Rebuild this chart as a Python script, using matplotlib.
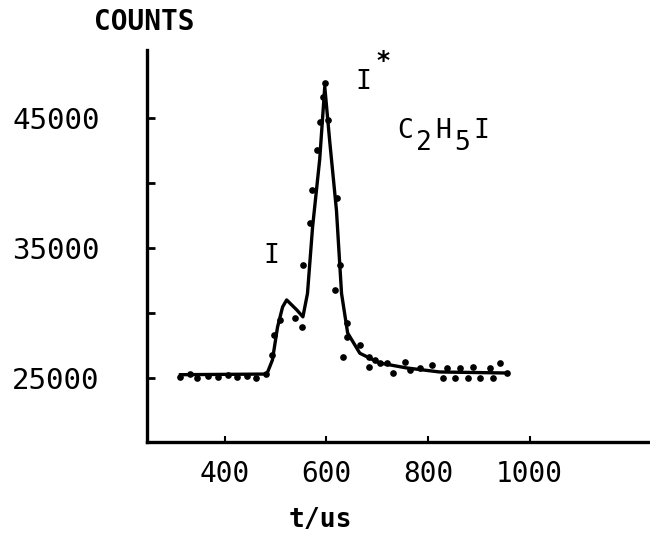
import matplotlib
matplotlib.use('Agg')
import matplotlib.pyplot as plt

# Fitted curve (time in us, counts)
curve_t = [313, 483, 494, 504, 514, 522, 542, 554, 563, 573, 587, 597,
           607, 620, 630, 642, 666, 705, 758, 823, 955]
curve_counts = [25250, 25300, 26380, 28900, 30460, 31000, 30230, 29700, 31500,
                36600, 41800, 47400, 43100, 37900, 31500, 28460, 26900, 26150,
                25770, 25460, 25380]

# Measured points
point_t = [313, 331, 345, 367, 386, 406, 424, 443, 461, 481,
           494, 498, 508, 538, 552, 554, 567, 571, 581, 587, 593, 597, 603,
           622, 626, 617, 640, 640, 632, 666, 685, 695, 705, 685, 719, 731,
           754, 764, 784, 809, 829, 837, 853, 863, 878, 888, 902, 922, 928,
           941, 955]
point_counts = [25077, 25308, 25000, 25154, 25077, 25231, 25077, 25154, 25000, 25308,
                26770, 28310, 29460, 29620, 28920, 33690, 36920, 39460, 42540, 44690,
                46620, 47690, 44850, 38850, 33690, 31770, 29230, 28150, 26620, 27540,
                26620, 26380, 26150, 25850, 26150, 25380, 26230, 25620, 25770, 26000,
                25000, 25770, 25000, 25770, 25000, 25850, 25000, 25770, 25000, 26150,
                25380]

x_ticks = [400, 600, 800, 1000]
y_ticks = [25000, 30000, 35000, 40000, 45000]
y_tick_labels = ['25000', '', '35000', '', '45000']

# Molecule label: characters and whether each one is a subscript
formula_chars = ['C', '2', 'H', '5', 'I']
formula_sub = [False, True, False, True, False]

font = 'DejaVu Sans Mono'

fig = plt.figure(figsize=(6.5, 5.37), dpi=100)
ax = fig.add_axes([0.226, 0.177, 0.774, 0.730])

ax.plot(curve_t, curve_counts, color='black', linewidth=2.4)
ax.plot(point_t, point_counts, 'o', color='black', markersize=3.8)

ax.set_xlim(247, 1237)
ax.set_ylim(20077, 50230)

for side in ['top', 'right']:
    ax.spines[side].set_visible(False)
for side in ['left', 'bottom']:
    ax.spines[side].set_linewidth(2.4)

ax.set_xticks(x_ticks)
ax.set_xticklabels([str(t) for t in x_ticks], fontfamily=font, fontsize=20)
ax.set_yticks(y_ticks)
ax.set_yticklabels(y_tick_labels, fontfamily=font, fontsize=21)
ax.tick_params(axis='x', direction='in', length=4, width=1.5, pad=13)
ax.tick_params(axis='y', direction='in', length=6, width=2, pad=34)

# Axis titles
fig.text(144 / 650, 1 - 22 / 537, 'COUNTS', fontfamily=font, fontsize=20,
         fontweight='bold', ha='center', va='center')
fig.text(320 / 650, 1 - 520 / 537, 't/us', fontfamily=font, fontsize=19,
         fontweight='bold', ha='center', va='center')

# Peak annotations
ax.text(492, 34400, 'I', fontfamily=font, fontsize=19, ha='center', va='center')
ax.text(672, 47800, 'I', fontfamily=font, fontsize=19, ha='center', va='center')
ax.text(711, 49400, '*', fontfamily=font, fontsize=18, fontweight='bold',
        ha='center', va='center')

# C2H5I written char by char so the subscripts keep full size
for i, (ch, sub) in enumerate(zip(formula_chars, formula_sub)):
    ax.annotate(ch, xy=(755, 44000), xytext=(i * 13.8, -9 if sub else 0),
                textcoords='offset points', fontfamily=font, fontsize=19,
                ha='center', va='center')

fig.savefig('out.png', dpi=100)
